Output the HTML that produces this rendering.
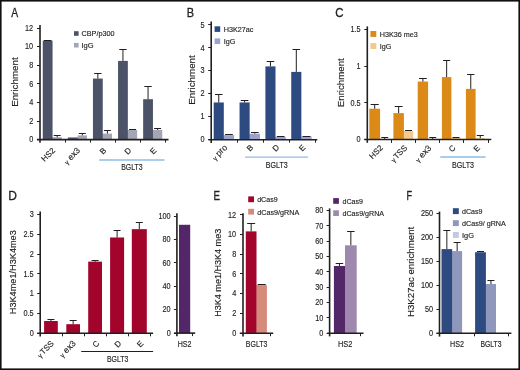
<!DOCTYPE html><html><head><meta charset="utf-8"><style>html,body{margin:0;padding:0;background:#fff;width:520px;height:370px;overflow:hidden}svg{display:block;will-change:transform}text{font-family:"Liberation Sans", sans-serif;stroke:#231f20;stroke-width:0.15px}</style></head><body>
<svg width="520" height="370" viewBox="0 0 520 370">
<rect x="0.00" y="0.00" width="520.00" height="370.00" fill="#fff"/>
<rect x="0.8" y="0.8" width="518.4" height="368.4" fill="none" stroke="#111" stroke-width="1.6"/>
<text x="11.20" y="17.00" font-size="12.0" text-anchor="start" fill="#231f20" textLength="6.9" lengthAdjust="spacingAndGlyphs" style="stroke-width:0.3px">A</text>
<text x="33.20" y="142.33" font-size="8.4" text-anchor="end" fill="#231f20" textLength="4.06" lengthAdjust="spacingAndGlyphs" >0</text>
<text x="33.20" y="123.75" font-size="8.4" text-anchor="end" fill="#231f20" textLength="4.06" lengthAdjust="spacingAndGlyphs" >2</text>
<text x="33.20" y="105.17" font-size="8.4" text-anchor="end" fill="#231f20" textLength="4.06" lengthAdjust="spacingAndGlyphs" >4</text>
<text x="33.20" y="86.59" font-size="8.4" text-anchor="end" fill="#231f20" textLength="4.06" lengthAdjust="spacingAndGlyphs" >6</text>
<text x="33.20" y="68.01" font-size="8.4" text-anchor="end" fill="#231f20" textLength="4.06" lengthAdjust="spacingAndGlyphs" >8</text>
<text x="33.20" y="49.43" font-size="8.4" text-anchor="end" fill="#231f20" textLength="8.13" lengthAdjust="spacingAndGlyphs" >10</text>
<text x="33.20" y="30.85" font-size="8.4" text-anchor="end" fill="#231f20" textLength="8.13" lengthAdjust="spacingAndGlyphs" >12</text>
<rect x="52.55" y="137.18" width="9.30" height="2.42" fill="#a4a5b5"/>
<rect x="51.55" y="137.18" width="1.00" height="2.42" fill="#a4a5b5"/>
<rect x="42.75" y="40.57" width="9.80" height="99.03" fill="#4c5368"/>
<line x1="43.98" y1="40.50" x2="51.32" y2="40.50" stroke="#231f20" stroke-width="1.0"/>
<line x1="57.20" y1="137.18" x2="57.20" y2="135.50" stroke="#231f20" stroke-width="1.0"/>
<line x1="53.71" y1="135.50" x2="60.69" y2="135.50" stroke="#231f20" stroke-width="1.0"/>
<rect x="77.65" y="135.42" width="9.30" height="4.18" fill="#a4a5b5"/>
<rect x="76.65" y="137.46" width="1.00" height="2.14" fill="#a4a5b5"/>
<rect x="67.85" y="137.46" width="9.80" height="2.14" fill="#4c5368"/>
<line x1="82.30" y1="135.42" x2="82.30" y2="133.50" stroke="#231f20" stroke-width="1.0"/>
<line x1="78.81" y1="133.50" x2="85.79" y2="133.50" stroke="#231f20" stroke-width="1.0"/>
<rect x="102.75" y="133.65" width="9.30" height="5.95" fill="#a4a5b5"/>
<rect x="101.75" y="133.65" width="1.00" height="5.95" fill="#a4a5b5"/>
<rect x="92.95" y="78.56" width="9.80" height="61.04" fill="#4c5368"/>
<line x1="97.85" y1="78.56" x2="97.85" y2="73.50" stroke="#231f20" stroke-width="1.0"/>
<line x1="94.17" y1="73.50" x2="101.52" y2="73.50" stroke="#231f20" stroke-width="1.0"/>
<line x1="107.40" y1="133.65" x2="107.40" y2="130.50" stroke="#231f20" stroke-width="1.0"/>
<line x1="103.91" y1="130.50" x2="110.89" y2="130.50" stroke="#231f20" stroke-width="1.0"/>
<rect x="127.85" y="129.94" width="9.30" height="9.66" fill="#a4a5b5"/>
<rect x="126.85" y="129.94" width="1.00" height="9.66" fill="#a4a5b5"/>
<rect x="118.05" y="60.91" width="9.80" height="78.69" fill="#4c5368"/>
<line x1="122.95" y1="60.91" x2="122.95" y2="49.50" stroke="#231f20" stroke-width="1.0"/>
<line x1="119.28" y1="49.50" x2="126.63" y2="49.50" stroke="#231f20" stroke-width="1.0"/>
<line x1="129.01" y1="129.50" x2="135.99" y2="129.50" stroke="#231f20" stroke-width="1.0"/>
<rect x="152.95" y="129.94" width="9.30" height="9.66" fill="#a4a5b5"/>
<rect x="151.95" y="129.94" width="1.00" height="9.66" fill="#a4a5b5"/>
<rect x="143.15" y="99.19" width="9.80" height="40.41" fill="#4c5368"/>
<line x1="148.05" y1="99.19" x2="148.05" y2="86.50" stroke="#231f20" stroke-width="1.0"/>
<line x1="144.37" y1="86.50" x2="151.72" y2="86.50" stroke="#231f20" stroke-width="1.0"/>
<line x1="157.60" y1="129.94" x2="157.60" y2="128.50" stroke="#231f20" stroke-width="1.0"/>
<line x1="154.11" y1="128.50" x2="161.09" y2="128.50" stroke="#231f20" stroke-width="1.0"/>
<rect x="74.00" y="31.20" width="4.60" height="4.60" fill="#4c5368"/>
<text x="81.50" y="35.80" font-size="7.5" text-anchor="start" fill="#231f20" textLength="33.0" lengthAdjust="spacingAndGlyphs" >CBP/p300</text>
<rect x="74.00" y="42.90" width="4.60" height="4.60" fill="#a4a5b5"/>
<text x="81.50" y="47.50" font-size="7.5" text-anchor="start" fill="#231f20" >IgG</text>
<text x="18.20" y="82.10" font-size="9.8" text-anchor="middle" fill="#231f20" textLength="49.5" lengthAdjust="spacingAndGlyphs" transform="rotate(-90 18.20 82.10)" >Enrichment</text>
<text x="55.55" y="151.00" font-size="8.0" text-anchor="end" fill="#231f20" transform="rotate(-45 55.55 151.00)" >HS2</text>
<text x="80.65" y="151.00" font-size="8.5" text-anchor="end" fill="#231f20" transform="rotate(-45 80.65 151.00)" ><tspan font-size="6.6" dy="0.6">γ</tspan><tspan dx="2.6" dy="-0.6">ex3</tspan></text>
<text x="106.75" y="151.00" font-size="8.0" text-anchor="end" fill="#231f20" transform="rotate(-45 106.75 151.00)" >B</text>
<text x="131.85" y="151.00" font-size="8.0" text-anchor="end" fill="#231f20" transform="rotate(-45 131.85 151.00)" >D</text>
<text x="156.95" y="151.00" font-size="8.0" text-anchor="end" fill="#231f20" transform="rotate(-45 156.95 151.00)" >E</text>
<line x1="99.20" y1="160.00" x2="164.50" y2="160.00" stroke="#8dbce8" stroke-width="1.3"/>
<text x="121.20" y="170.30" font-size="8.2" text-anchor="start" fill="#231f20" textLength="21.4" lengthAdjust="spacingAndGlyphs" >BGLT3</text>
<text x="186.70" y="17.00" font-size="12.0" text-anchor="start" fill="#231f20" textLength="7.3" lengthAdjust="spacingAndGlyphs" style="stroke-width:0.3px">B</text>
<text x="204.50" y="142.43" font-size="8.4" text-anchor="end" fill="#231f20" textLength="4.06" lengthAdjust="spacingAndGlyphs" >0</text>
<text x="204.50" y="119.45" font-size="8.4" text-anchor="end" fill="#231f20" textLength="4.06" lengthAdjust="spacingAndGlyphs" >1</text>
<text x="204.50" y="96.47" font-size="8.4" text-anchor="end" fill="#231f20" textLength="4.06" lengthAdjust="spacingAndGlyphs" >2</text>
<text x="204.50" y="73.49" font-size="8.4" text-anchor="end" fill="#231f20" textLength="4.06" lengthAdjust="spacingAndGlyphs" >3</text>
<text x="204.50" y="50.51" font-size="8.4" text-anchor="end" fill="#231f20" textLength="4.06" lengthAdjust="spacingAndGlyphs" >4</text>
<text x="204.50" y="27.53" font-size="8.4" text-anchor="end" fill="#231f20" textLength="4.06" lengthAdjust="spacingAndGlyphs" >5</text>
<rect x="223.80" y="135.10" width="10.30" height="4.60" fill="#9ca3ca"/>
<rect x="222.80" y="135.10" width="1.00" height="4.60" fill="#9ca3ca"/>
<rect x="213.70" y="102.47" width="10.10" height="37.23" fill="#2d4a81"/>
<line x1="218.75" y1="102.47" x2="218.75" y2="94.50" stroke="#231f20" stroke-width="1.0"/>
<line x1="214.96" y1="94.50" x2="222.54" y2="94.50" stroke="#231f20" stroke-width="1.0"/>
<line x1="225.09" y1="134.50" x2="232.81" y2="134.50" stroke="#231f20" stroke-width="1.0"/>
<rect x="249.65" y="133.73" width="10.30" height="5.97" fill="#9ca3ca"/>
<rect x="248.65" y="133.73" width="1.00" height="5.97" fill="#9ca3ca"/>
<rect x="239.55" y="102.47" width="10.10" height="37.23" fill="#2d4a81"/>
<line x1="244.60" y1="102.47" x2="244.60" y2="100.50" stroke="#231f20" stroke-width="1.0"/>
<line x1="240.81" y1="100.50" x2="248.39" y2="100.50" stroke="#231f20" stroke-width="1.0"/>
<line x1="254.80" y1="133.73" x2="254.80" y2="132.50" stroke="#231f20" stroke-width="1.0"/>
<line x1="250.94" y1="132.50" x2="258.66" y2="132.50" stroke="#231f20" stroke-width="1.0"/>
<rect x="275.50" y="136.94" width="10.30" height="2.76" fill="#9ca3ca"/>
<rect x="274.50" y="136.94" width="1.00" height="2.76" fill="#9ca3ca"/>
<rect x="265.40" y="66.39" width="10.10" height="73.31" fill="#2d4a81"/>
<line x1="270.45" y1="66.39" x2="270.45" y2="61.50" stroke="#231f20" stroke-width="1.0"/>
<line x1="266.66" y1="61.50" x2="274.24" y2="61.50" stroke="#231f20" stroke-width="1.0"/>
<line x1="276.79" y1="136.50" x2="284.51" y2="136.50" stroke="#231f20" stroke-width="1.0"/>
<rect x="301.35" y="136.48" width="10.30" height="3.22" fill="#9ca3ca"/>
<rect x="300.35" y="136.48" width="1.00" height="3.22" fill="#9ca3ca"/>
<rect x="291.25" y="71.91" width="10.10" height="67.79" fill="#2d4a81"/>
<line x1="296.30" y1="71.91" x2="296.30" y2="49.50" stroke="#231f20" stroke-width="1.0"/>
<line x1="292.51" y1="49.50" x2="300.09" y2="49.50" stroke="#231f20" stroke-width="1.0"/>
<line x1="302.64" y1="136.50" x2="310.36" y2="136.50" stroke="#231f20" stroke-width="1.0"/>
<rect x="214.60" y="26.30" width="5.60" height="5.60" fill="#2d4a81"/>
<text x="223.70" y="31.90" font-size="7.2" text-anchor="start" fill="#231f20" >H3K27ac</text>
<rect x="214.60" y="38.40" width="5.60" height="5.60" fill="#9ca3ca"/>
<text x="223.70" y="44.00" font-size="7.2" text-anchor="start" fill="#231f20" >IgG</text>
<text x="195.00" y="80.00" font-size="9.8" text-anchor="middle" fill="#231f20" textLength="49.5" lengthAdjust="spacingAndGlyphs" transform="rotate(-90 195.00 80.00)" >Enrichment</text>
<text x="227.82" y="148.00" font-size="8.7" text-anchor="end" fill="#231f20" transform="rotate(-45 227.82 148.00)" ><tspan font-size="6.6" dy="0.6">γ</tspan><tspan dx="2.2" dy="-0.6">pro</tspan></text>
<text x="253.87" y="148.00" font-size="8.0" text-anchor="end" fill="#231f20" transform="rotate(-45 253.87 148.00)" >B</text>
<text x="279.93" y="148.00" font-size="8.0" text-anchor="end" fill="#231f20" transform="rotate(-45 279.93 148.00)" >D</text>
<text x="305.98" y="148.00" font-size="8.0" text-anchor="end" fill="#231f20" transform="rotate(-45 305.98 148.00)" >E</text>
<line x1="245.10" y1="157.20" x2="308.10" y2="157.20" stroke="#8dbce8" stroke-width="1.3"/>
<text x="265.80" y="168.10" font-size="8.2" text-anchor="start" fill="#231f20" textLength="21.9" lengthAdjust="spacingAndGlyphs" >BGLT3</text>
<text x="335.30" y="17.20" font-size="12.0" text-anchor="start" fill="#231f20" textLength="8.3" lengthAdjust="spacingAndGlyphs" style="stroke-width:0.3px">C</text>
<text x="360.60" y="142.28" font-size="8.4" text-anchor="end" fill="#231f20" textLength="4.06" lengthAdjust="spacingAndGlyphs" >0</text>
<text x="360.60" y="105.56" font-size="8.4" text-anchor="end" fill="#231f20" textLength="10.16" lengthAdjust="spacingAndGlyphs" >0.5</text>
<text x="360.60" y="68.83" font-size="8.4" text-anchor="end" fill="#231f20" textLength="4.06" lengthAdjust="spacingAndGlyphs" >1</text>
<text x="360.60" y="32.11" font-size="8.4" text-anchor="end" fill="#231f20" textLength="10.16" lengthAdjust="spacingAndGlyphs" >1.5</text>
<rect x="380.10" y="139.26" width="9.30" height="0.29" fill="#f2c98f"/>
<rect x="379.10" y="139.26" width="1.00" height="0.29" fill="#f2c98f"/>
<rect x="369.30" y="108.70" width="10.80" height="30.85" fill="#db8a18"/>
<line x1="374.70" y1="108.70" x2="374.70" y2="104.50" stroke="#231f20" stroke-width="1.0"/>
<line x1="370.65" y1="104.50" x2="378.75" y2="104.50" stroke="#231f20" stroke-width="1.0"/>
<line x1="384.75" y1="139.26" x2="384.75" y2="137.50" stroke="#231f20" stroke-width="1.0"/>
<line x1="381.26" y1="137.50" x2="388.24" y2="137.50" stroke="#231f20" stroke-width="1.0"/>
<rect x="403.90" y="130.96" width="9.30" height="8.59" fill="#f2c98f"/>
<rect x="402.90" y="130.96" width="1.00" height="8.59" fill="#f2c98f"/>
<rect x="393.40" y="113.11" width="10.50" height="26.44" fill="#db8a18"/>
<line x1="398.65" y1="113.11" x2="398.65" y2="106.50" stroke="#231f20" stroke-width="1.0"/>
<line x1="394.71" y1="106.50" x2="402.59" y2="106.50" stroke="#231f20" stroke-width="1.0"/>
<line x1="405.06" y1="130.50" x2="412.04" y2="130.50" stroke="#231f20" stroke-width="1.0"/>
<rect x="428.10" y="139.26" width="9.30" height="0.29" fill="#f2c98f"/>
<rect x="427.10" y="139.26" width="1.00" height="0.29" fill="#f2c98f"/>
<rect x="417.70" y="81.52" width="10.40" height="58.03" fill="#db8a18"/>
<line x1="422.90" y1="81.52" x2="422.90" y2="78.50" stroke="#231f20" stroke-width="1.0"/>
<line x1="419.00" y1="78.50" x2="426.80" y2="78.50" stroke="#231f20" stroke-width="1.0"/>
<line x1="432.75" y1="139.26" x2="432.75" y2="137.50" stroke="#231f20" stroke-width="1.0"/>
<line x1="429.26" y1="137.50" x2="436.24" y2="137.50" stroke="#231f20" stroke-width="1.0"/>
<rect x="451.40" y="137.71" width="9.30" height="1.84" fill="#f2c98f"/>
<rect x="450.40" y="137.71" width="1.00" height="1.84" fill="#f2c98f"/>
<rect x="441.90" y="77.12" width="9.50" height="62.43" fill="#db8a18"/>
<line x1="446.65" y1="77.12" x2="446.65" y2="60.50" stroke="#231f20" stroke-width="1.0"/>
<line x1="443.09" y1="60.50" x2="450.21" y2="60.50" stroke="#231f20" stroke-width="1.0"/>
<line x1="452.56" y1="137.50" x2="459.54" y2="137.50" stroke="#231f20" stroke-width="1.0"/>
<rect x="475.60" y="138.08" width="9.30" height="1.47" fill="#f2c98f"/>
<rect x="474.60" y="138.08" width="1.00" height="1.47" fill="#f2c98f"/>
<rect x="465.90" y="88.87" width="9.70" height="50.68" fill="#db8a18"/>
<line x1="470.75" y1="88.87" x2="470.75" y2="74.50" stroke="#231f20" stroke-width="1.0"/>
<line x1="467.11" y1="74.50" x2="474.39" y2="74.50" stroke="#231f20" stroke-width="1.0"/>
<line x1="480.25" y1="138.08" x2="480.25" y2="135.50" stroke="#231f20" stroke-width="1.0"/>
<line x1="476.76" y1="135.50" x2="483.74" y2="135.50" stroke="#231f20" stroke-width="1.0"/>
<rect x="370.40" y="31.00" width="5.90" height="5.90" fill="#db8a18"/>
<text x="379.80" y="36.90" font-size="7.2" text-anchor="start" fill="#231f20" >H3K36 me3</text>
<rect x="370.40" y="43.10" width="5.90" height="5.90" fill="#f2c98f"/>
<text x="379.80" y="49.00" font-size="7.2" text-anchor="start" fill="#231f20" >IgG</text>
<text x="344.00" y="82.70" font-size="9.8" text-anchor="middle" fill="#231f20" textLength="49.0" lengthAdjust="spacingAndGlyphs" transform="rotate(-90 344.00 82.70)" >Enrichment</text>
<text x="383.43" y="148.40" font-size="8.0" text-anchor="end" fill="#231f20" transform="rotate(-45 383.43 148.40)" >HS2</text>
<text x="407.68" y="148.40" font-size="8.0" text-anchor="end" fill="#231f20" transform="rotate(-45 407.68 148.40)" ><tspan font-size="6.6" dy="0.6">γ</tspan><tspan dx="1.2" dy="-0.6">TSS</tspan></text>
<text x="431.93" y="148.70" font-size="8.5" text-anchor="end" fill="#231f20" transform="rotate(-45 431.93 148.70)" ><tspan font-size="6.6" dy="0.6">γ</tspan><tspan dx="2.6" dy="-0.6">ex3</tspan></text>
<text x="456.18" y="148.40" font-size="8.0" text-anchor="end" fill="#231f20" transform="rotate(-45 456.18 148.40)" >C</text>
<text x="480.43" y="148.40" font-size="8.0" text-anchor="end" fill="#231f20" transform="rotate(-45 480.43 148.40)" >E</text>
<line x1="440.30" y1="157.00" x2="485.60" y2="157.00" stroke="#8dbce8" stroke-width="1.3"/>
<text x="451.90" y="167.90" font-size="8.2" text-anchor="start" fill="#231f20" textLength="22.1" lengthAdjust="spacingAndGlyphs" >BGLT3</text>
<text x="8.20" y="199.80" font-size="12.0" text-anchor="start" fill="#231f20" style="stroke-width:0.3px">D</text>
<text x="33.70" y="336.03" font-size="8.4" text-anchor="end" fill="#231f20" textLength="4.06" lengthAdjust="spacingAndGlyphs" >0</text>
<text x="33.70" y="316.23" font-size="8.4" text-anchor="end" fill="#231f20" textLength="10.16" lengthAdjust="spacingAndGlyphs" >0.5</text>
<text x="33.70" y="296.43" font-size="8.4" text-anchor="end" fill="#231f20" textLength="4.06" lengthAdjust="spacingAndGlyphs" >1</text>
<text x="33.70" y="276.63" font-size="8.4" text-anchor="end" fill="#231f20" textLength="10.16" lengthAdjust="spacingAndGlyphs" >1.5</text>
<text x="33.70" y="256.83" font-size="8.4" text-anchor="end" fill="#231f20" textLength="4.06" lengthAdjust="spacingAndGlyphs" >2</text>
<text x="33.70" y="237.03" font-size="8.4" text-anchor="end" fill="#231f20" textLength="10.16" lengthAdjust="spacingAndGlyphs" >2.5</text>
<text x="33.70" y="217.23" font-size="8.4" text-anchor="end" fill="#231f20" textLength="4.06" lengthAdjust="spacingAndGlyphs" >3</text>
<rect x="44.10" y="321.02" width="13.70" height="12.28" fill="#a3042c"/>
<line x1="50.95" y1="321.02" x2="50.95" y2="319.50" stroke="#231f20" stroke-width="1.0"/>
<line x1="47.45" y1="319.50" x2="54.45" y2="319.50" stroke="#231f20" stroke-width="1.0"/>
<rect x="66.30" y="324.19" width="13.70" height="9.11" fill="#a3042c"/>
<line x1="73.15" y1="324.19" x2="73.15" y2="320.50" stroke="#231f20" stroke-width="1.0"/>
<line x1="69.65" y1="320.50" x2="76.65" y2="320.50" stroke="#231f20" stroke-width="1.0"/>
<rect x="88.20" y="261.62" width="13.80" height="71.68" fill="#a3042c"/>
<line x1="95.10" y1="261.62" x2="95.10" y2="260.50" stroke="#231f20" stroke-width="1.0"/>
<line x1="91.60" y1="260.50" x2="98.60" y2="260.50" stroke="#231f20" stroke-width="1.0"/>
<rect x="110.10" y="237.47" width="14.00" height="95.83" fill="#a3042c"/>
<line x1="117.10" y1="237.47" x2="117.10" y2="230.50" stroke="#231f20" stroke-width="1.0"/>
<line x1="113.60" y1="230.50" x2="120.60" y2="230.50" stroke="#231f20" stroke-width="1.0"/>
<rect x="131.80" y="229.15" width="15.00" height="104.15" fill="#a3042c"/>
<line x1="139.30" y1="229.15" x2="139.30" y2="222.50" stroke="#231f20" stroke-width="1.0"/>
<line x1="135.80" y1="222.50" x2="142.80" y2="222.50" stroke="#231f20" stroke-width="1.0"/>
<text x="16.00" y="272.20" font-size="9.8" text-anchor="middle" fill="#231f20" textLength="84" lengthAdjust="spacingAndGlyphs" transform="rotate(-90 16.00 272.20)" >H3K4me1/H3K4me3</text>
<text x="54.23" y="344.00" font-size="8.0" text-anchor="end" fill="#231f20" transform="rotate(-45 54.23 344.00)" ><tspan font-size="6.6" dy="0.6">γ</tspan><tspan dx="1.2" dy="-0.6">TSS</tspan></text>
<text x="76.29" y="344.00" font-size="8.5" text-anchor="end" fill="#231f20" transform="rotate(-45 76.29 344.00)" ><tspan font-size="6.6" dy="0.6">γ</tspan><tspan dx="2.6" dy="-0.6">ex3</tspan></text>
<text x="99.85" y="344.00" font-size="8.0" text-anchor="end" fill="#231f20" transform="rotate(-45 99.85 344.00)" >C</text>
<text x="121.91" y="344.00" font-size="8.0" text-anchor="end" fill="#231f20" transform="rotate(-45 121.91 344.00)" >D</text>
<text x="143.97" y="344.00" font-size="8.0" text-anchor="end" fill="#231f20" transform="rotate(-45 143.97 344.00)" >E</text>
<line x1="81.20" y1="351.50" x2="153.10" y2="351.50" stroke="#231f20" stroke-width="1.0"/>
<text x="106.90" y="362.30" font-size="8.2" text-anchor="start" fill="#231f20" textLength="21.6" lengthAdjust="spacingAndGlyphs" >BGLT3</text>
<text x="170.70" y="335.83" font-size="8.4" text-anchor="end" fill="#231f20" textLength="4.06" lengthAdjust="spacingAndGlyphs" >0</text>
<text x="170.70" y="312.41" font-size="8.4" text-anchor="end" fill="#231f20" textLength="8.13" lengthAdjust="spacingAndGlyphs" >20</text>
<text x="170.70" y="288.99" font-size="8.4" text-anchor="end" fill="#231f20" textLength="8.13" lengthAdjust="spacingAndGlyphs" >40</text>
<text x="170.70" y="265.57" font-size="8.4" text-anchor="end" fill="#231f20" textLength="8.13" lengthAdjust="spacingAndGlyphs" >60</text>
<text x="170.70" y="242.15" font-size="8.4" text-anchor="end" fill="#231f20" textLength="8.13" lengthAdjust="spacingAndGlyphs" >80</text>
<text x="170.70" y="218.73" font-size="8.4" text-anchor="end" fill="#231f20" textLength="12.19" lengthAdjust="spacingAndGlyphs" >100</text>
<rect x="179.00" y="224.78" width="11.20" height="108.32" fill="#53266a"/>
<text x="177.70" y="347.00" font-size="8.2" text-anchor="start" fill="#231f20" textLength="13.8" lengthAdjust="spacingAndGlyphs" >HS2</text>
<text x="213.60" y="200.00" font-size="12.0" text-anchor="start" fill="#231f20" textLength="6.5" lengthAdjust="spacingAndGlyphs" style="stroke-width:0.3px">E</text>
<text x="236.20" y="335.93" font-size="8.4" text-anchor="end" fill="#231f20" textLength="4.06" lengthAdjust="spacingAndGlyphs" >0</text>
<text x="236.20" y="316.20" font-size="8.4" text-anchor="end" fill="#231f20" textLength="4.06" lengthAdjust="spacingAndGlyphs" >2</text>
<text x="236.20" y="296.46" font-size="8.4" text-anchor="end" fill="#231f20" textLength="4.06" lengthAdjust="spacingAndGlyphs" >4</text>
<text x="236.20" y="276.73" font-size="8.4" text-anchor="end" fill="#231f20" textLength="4.06" lengthAdjust="spacingAndGlyphs" >6</text>
<text x="236.20" y="256.99" font-size="8.4" text-anchor="end" fill="#231f20" textLength="4.06" lengthAdjust="spacingAndGlyphs" >8</text>
<text x="236.20" y="237.26" font-size="8.4" text-anchor="end" fill="#231f20" textLength="8.13" lengthAdjust="spacingAndGlyphs" >10</text>
<text x="236.20" y="217.53" font-size="8.4" text-anchor="end" fill="#231f20" textLength="8.13" lengthAdjust="spacingAndGlyphs" >12</text>
<rect x="256.50" y="285.05" width="10.40" height="48.15" fill="#d68a7c"/>
<rect x="255.50" y="285.05" width="1.00" height="48.15" fill="#d68a7c"/>
<rect x="245.80" y="231.37" width="10.70" height="101.83" fill="#a3042c"/>
<line x1="251.15" y1="231.37" x2="251.15" y2="223.50" stroke="#231f20" stroke-width="1.0"/>
<line x1="247.15" y1="223.50" x2="255.15" y2="223.50" stroke="#231f20" stroke-width="1.0"/>
<line x1="257.70" y1="284.50" x2="265.70" y2="284.50" stroke="#231f20" stroke-width="1.0"/>
<rect x="248.20" y="196.40" width="5.80" height="5.80" fill="#a3042c"/>
<text x="257.20" y="202.20" font-size="7.4" text-anchor="start" fill="#231f20" textLength="20.4" lengthAdjust="spacingAndGlyphs" >dCas9</text>
<rect x="248.20" y="208.80" width="5.80" height="5.80" fill="#d68a7c"/>
<text x="257.20" y="214.60" font-size="7.4" text-anchor="start" fill="#231f20" textLength="42.0" lengthAdjust="spacingAndGlyphs" >dCas9/gRNA</text>
<text x="221.00" y="272.80" font-size="9.8" text-anchor="middle" fill="#231f20" textLength="88" lengthAdjust="spacingAndGlyphs" transform="rotate(-90 221.00 272.80)" >H3K4 me1/H3K4 me3</text>
<text x="245.80" y="346.80" font-size="8.2" text-anchor="start" fill="#231f20" textLength="21.6" lengthAdjust="spacingAndGlyphs" >BGLT3</text>
<text x="323.40" y="335.93" font-size="8.4" text-anchor="end" fill="#231f20" textLength="4.06" lengthAdjust="spacingAndGlyphs" >0</text>
<text x="323.40" y="320.59" font-size="8.4" text-anchor="end" fill="#231f20" textLength="8.13" lengthAdjust="spacingAndGlyphs" >10</text>
<text x="323.40" y="305.25" font-size="8.4" text-anchor="end" fill="#231f20" textLength="8.13" lengthAdjust="spacingAndGlyphs" >20</text>
<text x="323.40" y="289.91" font-size="8.4" text-anchor="end" fill="#231f20" textLength="8.13" lengthAdjust="spacingAndGlyphs" >30</text>
<text x="323.40" y="274.57" font-size="8.4" text-anchor="end" fill="#231f20" textLength="8.13" lengthAdjust="spacingAndGlyphs" >40</text>
<text x="323.40" y="259.23" font-size="8.4" text-anchor="end" fill="#231f20" textLength="8.13" lengthAdjust="spacingAndGlyphs" >50</text>
<text x="323.40" y="243.89" font-size="8.4" text-anchor="end" fill="#231f20" textLength="8.13" lengthAdjust="spacingAndGlyphs" >60</text>
<text x="323.40" y="228.55" font-size="8.4" text-anchor="end" fill="#231f20" textLength="8.13" lengthAdjust="spacingAndGlyphs" >70</text>
<text x="323.40" y="213.21" font-size="8.4" text-anchor="end" fill="#231f20" textLength="8.13" lengthAdjust="spacingAndGlyphs" >80</text>
<rect x="345.00" y="245.30" width="11.70" height="87.90" fill="#9e88ad"/>
<rect x="344.00" y="266.01" width="1.00" height="67.19" fill="#9e88ad"/>
<rect x="333.90" y="266.01" width="11.10" height="67.19" fill="#53266a"/>
<line x1="339.45" y1="266.01" x2="339.45" y2="263.50" stroke="#231f20" stroke-width="1.0"/>
<line x1="335.70" y1="263.50" x2="343.20" y2="263.50" stroke="#231f20" stroke-width="1.0"/>
<line x1="350.85" y1="245.30" x2="350.85" y2="231.50" stroke="#231f20" stroke-width="1.0"/>
<line x1="347.10" y1="231.50" x2="354.60" y2="231.50" stroke="#231f20" stroke-width="1.0"/>
<rect x="333.20" y="198.10" width="5.70" height="5.70" fill="#53266a"/>
<text x="342.50" y="203.80" font-size="7.4" text-anchor="start" fill="#231f20" textLength="20.4" lengthAdjust="spacingAndGlyphs" >dCas9</text>
<rect x="333.20" y="210.30" width="5.70" height="5.70" fill="#9e88ad"/>
<text x="342.50" y="216.00" font-size="7.4" text-anchor="start" fill="#231f20" textLength="41.6" lengthAdjust="spacingAndGlyphs" >dCas9/gRNA</text>
<text x="338.00" y="347.00" font-size="8.2" text-anchor="start" fill="#231f20" textLength="14.4" lengthAdjust="spacingAndGlyphs" >HS2</text>
<text x="406.60" y="199.80" font-size="12.0" text-anchor="start" fill="#231f20" textLength="5.6" lengthAdjust="spacingAndGlyphs" style="stroke-width:0.3px">F</text>
<text x="433.10" y="336.03" font-size="8.4" text-anchor="end" fill="#231f20" textLength="4.06" lengthAdjust="spacingAndGlyphs" >0</text>
<text x="433.10" y="312.11" font-size="8.4" text-anchor="end" fill="#231f20" textLength="8.13" lengthAdjust="spacingAndGlyphs" >50</text>
<text x="433.10" y="288.19" font-size="8.4" text-anchor="end" fill="#231f20" textLength="12.19" lengthAdjust="spacingAndGlyphs" >100</text>
<text x="433.10" y="264.27" font-size="8.4" text-anchor="end" fill="#231f20" textLength="12.19" lengthAdjust="spacingAndGlyphs" >150</text>
<text x="433.10" y="240.35" font-size="8.4" text-anchor="end" fill="#231f20" textLength="12.19" lengthAdjust="spacingAndGlyphs" >200</text>
<text x="433.10" y="216.43" font-size="8.4" text-anchor="end" fill="#231f20" textLength="12.19" lengthAdjust="spacingAndGlyphs" >250</text>
<rect x="452.20" y="251.11" width="9.90" height="82.19" fill="#8f97bd"/>
<rect x="451.20" y="251.11" width="1.00" height="82.19" fill="#8f97bd"/>
<rect x="441.50" y="249.10" width="10.70" height="84.20" fill="#2d4a81"/>
<line x1="446.85" y1="249.10" x2="446.85" y2="230.50" stroke="#231f20" stroke-width="1.0"/>
<line x1="443.35" y1="230.50" x2="450.35" y2="230.50" stroke="#231f20" stroke-width="1.0"/>
<line x1="457.15" y1="251.11" x2="457.15" y2="242.50" stroke="#231f20" stroke-width="1.0"/>
<line x1="453.65" y1="242.50" x2="460.65" y2="242.50" stroke="#231f20" stroke-width="1.0"/>
<rect x="485.90" y="284.02" width="10.10" height="49.28" fill="#8f97bd"/>
<rect x="484.90" y="284.02" width="1.00" height="49.28" fill="#8f97bd"/>
<rect x="475.10" y="252.21" width="10.80" height="81.09" fill="#2d4a81"/>
<line x1="477.00" y1="251.50" x2="484.00" y2="251.50" stroke="#231f20" stroke-width="1.0"/>
<line x1="490.95" y1="284.02" x2="490.95" y2="280.50" stroke="#231f20" stroke-width="1.0"/>
<line x1="487.45" y1="280.50" x2="494.45" y2="280.50" stroke="#231f20" stroke-width="1.0"/>
<rect x="452.90" y="208.20" width="5.90" height="5.90" fill="#2d4a81"/>
<text x="462.00" y="214.10" font-size="7.4" text-anchor="start" fill="#231f20" textLength="20.4" lengthAdjust="spacingAndGlyphs" >dCas9</text>
<rect x="452.90" y="220.20" width="5.90" height="5.90" fill="#8f97bd"/>
<text x="462.00" y="226.10" font-size="7.4" text-anchor="start" fill="#231f20" textLength="43.8" lengthAdjust="spacingAndGlyphs" >dCas9/ gRNA</text>
<rect x="452.90" y="232.00" width="5.90" height="5.90" fill="#c5c8e3"/>
<text x="462.00" y="237.90" font-size="7.4" text-anchor="start" fill="#231f20" >IgG</text>
<text x="413.60" y="271.90" font-size="9.8" text-anchor="middle" fill="#231f20" textLength="90.3" lengthAdjust="spacingAndGlyphs" transform="rotate(-90 413.60 271.90)" >H3K27ac enrichment</text>
<text x="450.10" y="347.10" font-size="8.2" text-anchor="start" fill="#231f20" textLength="13.9" lengthAdjust="spacingAndGlyphs" >HS2</text>
<text x="480.40" y="347.10" font-size="8.2" text-anchor="start" fill="#231f20" textLength="21.1" lengthAdjust="spacingAndGlyphs" >BGLT3</text>
<line x1="40.00" y1="25.00" x2="40.00" y2="142.80" stroke="#231f20" stroke-width="1.6"/>
<line x1="37.00" y1="139.50" x2="40.00" y2="139.50" stroke="#231f20" stroke-width="1.0"/>
<line x1="37.00" y1="121.50" x2="40.00" y2="121.50" stroke="#231f20" stroke-width="1.0"/>
<line x1="37.00" y1="102.50" x2="40.00" y2="102.50" stroke="#231f20" stroke-width="1.0"/>
<line x1="37.00" y1="83.50" x2="40.00" y2="83.50" stroke="#231f20" stroke-width="1.0"/>
<line x1="37.00" y1="65.50" x2="40.00" y2="65.50" stroke="#231f20" stroke-width="1.0"/>
<line x1="37.00" y1="46.50" x2="40.00" y2="46.50" stroke="#231f20" stroke-width="1.0"/>
<line x1="37.00" y1="28.50" x2="40.00" y2="28.50" stroke="#231f20" stroke-width="1.0"/>
<line x1="37.00" y1="139.60" x2="168.50" y2="139.60" stroke="#231f20" stroke-width="1.6"/>
<line x1="65.50" y1="139.60" x2="65.50" y2="142.60" stroke="#231f20" stroke-width="1.0"/>
<line x1="90.50" y1="139.60" x2="90.50" y2="142.60" stroke="#231f20" stroke-width="1.0"/>
<line x1="115.50" y1="139.60" x2="115.50" y2="142.60" stroke="#231f20" stroke-width="1.0"/>
<line x1="140.50" y1="139.60" x2="140.50" y2="142.60" stroke="#231f20" stroke-width="1.0"/>
<line x1="165.50" y1="139.60" x2="165.50" y2="142.60" stroke="#231f20" stroke-width="1.0"/>
<line x1="211.20" y1="21.40" x2="211.20" y2="142.90" stroke="#231f20" stroke-width="1.6"/>
<line x1="208.20" y1="139.50" x2="211.20" y2="139.50" stroke="#231f20" stroke-width="1.0"/>
<line x1="208.20" y1="116.50" x2="211.20" y2="116.50" stroke="#231f20" stroke-width="1.0"/>
<line x1="208.20" y1="93.50" x2="211.20" y2="93.50" stroke="#231f20" stroke-width="1.0"/>
<line x1="208.20" y1="70.50" x2="211.20" y2="70.50" stroke="#231f20" stroke-width="1.0"/>
<line x1="208.20" y1="47.50" x2="211.20" y2="47.50" stroke="#231f20" stroke-width="1.0"/>
<line x1="208.20" y1="24.50" x2="211.20" y2="24.50" stroke="#231f20" stroke-width="1.0"/>
<line x1="208.40" y1="139.70" x2="317.30" y2="139.70" stroke="#231f20" stroke-width="1.6"/>
<line x1="237.50" y1="139.70" x2="237.50" y2="142.70" stroke="#231f20" stroke-width="1.0"/>
<line x1="263.50" y1="139.70" x2="263.50" y2="142.70" stroke="#231f20" stroke-width="1.0"/>
<line x1="289.50" y1="139.70" x2="289.50" y2="142.70" stroke="#231f20" stroke-width="1.0"/>
<line x1="315.50" y1="139.70" x2="315.50" y2="142.70" stroke="#231f20" stroke-width="1.0"/>
<line x1="367.30" y1="26.40" x2="367.30" y2="142.80" stroke="#231f20" stroke-width="1.6"/>
<line x1="364.30" y1="139.50" x2="367.30" y2="139.50" stroke="#231f20" stroke-width="1.0"/>
<line x1="364.30" y1="102.50" x2="367.30" y2="102.50" stroke="#231f20" stroke-width="1.0"/>
<line x1="364.30" y1="66.50" x2="367.30" y2="66.50" stroke="#231f20" stroke-width="1.0"/>
<line x1="364.30" y1="29.50" x2="367.30" y2="29.50" stroke="#231f20" stroke-width="1.0"/>
<line x1="364.30" y1="139.55" x2="491.30" y2="139.55" stroke="#231f20" stroke-width="1.6"/>
<line x1="391.50" y1="139.55" x2="391.50" y2="142.95" stroke="#231f20" stroke-width="1.0"/>
<line x1="415.50" y1="139.55" x2="415.50" y2="142.95" stroke="#231f20" stroke-width="1.0"/>
<line x1="439.50" y1="139.55" x2="439.50" y2="142.95" stroke="#231f20" stroke-width="1.0"/>
<line x1="463.50" y1="139.55" x2="463.50" y2="142.95" stroke="#231f20" stroke-width="1.0"/>
<line x1="488.50" y1="139.55" x2="488.50" y2="142.95" stroke="#231f20" stroke-width="1.0"/>
<line x1="40.20" y1="211.60" x2="40.20" y2="336.40" stroke="#231f20" stroke-width="1.6"/>
<line x1="37.20" y1="333.50" x2="40.20" y2="333.50" stroke="#231f20" stroke-width="1.0"/>
<line x1="37.20" y1="313.50" x2="40.20" y2="313.50" stroke="#231f20" stroke-width="1.0"/>
<line x1="37.20" y1="293.50" x2="40.20" y2="293.50" stroke="#231f20" stroke-width="1.0"/>
<line x1="37.20" y1="273.50" x2="40.20" y2="273.50" stroke="#231f20" stroke-width="1.0"/>
<line x1="37.20" y1="254.50" x2="40.20" y2="254.50" stroke="#231f20" stroke-width="1.0"/>
<line x1="37.20" y1="234.50" x2="40.20" y2="234.50" stroke="#231f20" stroke-width="1.0"/>
<line x1="37.20" y1="214.50" x2="40.20" y2="214.50" stroke="#231f20" stroke-width="1.0"/>
<line x1="37.20" y1="333.30" x2="153.10" y2="333.30" stroke="#231f20" stroke-width="1.6"/>
<line x1="62.50" y1="333.30" x2="62.50" y2="336.30" stroke="#231f20" stroke-width="1.0"/>
<line x1="84.50" y1="333.30" x2="84.50" y2="336.30" stroke="#231f20" stroke-width="1.0"/>
<line x1="106.50" y1="333.30" x2="106.50" y2="336.30" stroke="#231f20" stroke-width="1.0"/>
<line x1="128.50" y1="333.30" x2="128.50" y2="336.30" stroke="#231f20" stroke-width="1.0"/>
<line x1="150.50" y1="333.30" x2="150.50" y2="336.30" stroke="#231f20" stroke-width="1.0"/>
<line x1="176.90" y1="213.30" x2="176.90" y2="336.30" stroke="#231f20" stroke-width="1.6"/>
<line x1="173.90" y1="333.50" x2="176.90" y2="333.50" stroke="#231f20" stroke-width="1.0"/>
<line x1="173.90" y1="309.50" x2="176.90" y2="309.50" stroke="#231f20" stroke-width="1.0"/>
<line x1="173.90" y1="286.50" x2="176.90" y2="286.50" stroke="#231f20" stroke-width="1.0"/>
<line x1="173.90" y1="262.50" x2="176.90" y2="262.50" stroke="#231f20" stroke-width="1.0"/>
<line x1="173.90" y1="239.50" x2="176.90" y2="239.50" stroke="#231f20" stroke-width="1.0"/>
<line x1="173.90" y1="216.50" x2="176.90" y2="216.50" stroke="#231f20" stroke-width="1.0"/>
<line x1="174.10" y1="333.10" x2="195.20" y2="333.10" stroke="#231f20" stroke-width="1.6"/>
<line x1="192.50" y1="333.10" x2="192.50" y2="336.10" stroke="#231f20" stroke-width="1.0"/>
<line x1="243.00" y1="213.20" x2="243.00" y2="336.40" stroke="#231f20" stroke-width="1.6"/>
<line x1="240.00" y1="333.50" x2="243.00" y2="333.50" stroke="#231f20" stroke-width="1.0"/>
<line x1="240.00" y1="313.50" x2="243.00" y2="313.50" stroke="#231f20" stroke-width="1.0"/>
<line x1="240.00" y1="293.50" x2="243.00" y2="293.50" stroke="#231f20" stroke-width="1.0"/>
<line x1="240.00" y1="273.50" x2="243.00" y2="273.50" stroke="#231f20" stroke-width="1.0"/>
<line x1="240.00" y1="254.50" x2="243.00" y2="254.50" stroke="#231f20" stroke-width="1.0"/>
<line x1="240.00" y1="234.50" x2="243.00" y2="234.50" stroke="#231f20" stroke-width="1.0"/>
<line x1="240.00" y1="214.50" x2="243.00" y2="214.50" stroke="#231f20" stroke-width="1.0"/>
<line x1="239.80" y1="333.20" x2="273.20" y2="333.20" stroke="#231f20" stroke-width="1.6"/>
<line x1="270.50" y1="333.20" x2="270.50" y2="336.20" stroke="#231f20" stroke-width="1.0"/>
<line x1="329.60" y1="208.40" x2="329.60" y2="336.40" stroke="#231f20" stroke-width="1.6"/>
<line x1="326.60" y1="333.50" x2="329.60" y2="333.50" stroke="#231f20" stroke-width="1.0"/>
<line x1="326.60" y1="317.50" x2="329.60" y2="317.50" stroke="#231f20" stroke-width="1.0"/>
<line x1="326.60" y1="302.50" x2="329.60" y2="302.50" stroke="#231f20" stroke-width="1.0"/>
<line x1="326.60" y1="287.50" x2="329.60" y2="287.50" stroke="#231f20" stroke-width="1.0"/>
<line x1="326.60" y1="271.50" x2="329.60" y2="271.50" stroke="#231f20" stroke-width="1.0"/>
<line x1="326.60" y1="256.50" x2="329.60" y2="256.50" stroke="#231f20" stroke-width="1.0"/>
<line x1="326.60" y1="241.50" x2="329.60" y2="241.50" stroke="#231f20" stroke-width="1.0"/>
<line x1="326.60" y1="225.50" x2="329.60" y2="225.50" stroke="#231f20" stroke-width="1.0"/>
<line x1="326.60" y1="210.50" x2="329.60" y2="210.50" stroke="#231f20" stroke-width="1.0"/>
<line x1="327.20" y1="333.20" x2="363.50" y2="333.20" stroke="#231f20" stroke-width="1.6"/>
<line x1="360.50" y1="333.20" x2="360.50" y2="336.20" stroke="#231f20" stroke-width="1.0"/>
<line x1="439.50" y1="211.60" x2="439.50" y2="336.60" stroke="#231f20" stroke-width="1.6"/>
<line x1="436.50" y1="333.50" x2="439.50" y2="333.50" stroke="#231f20" stroke-width="1.0"/>
<line x1="436.50" y1="309.50" x2="439.50" y2="309.50" stroke="#231f20" stroke-width="1.0"/>
<line x1="436.50" y1="285.50" x2="439.50" y2="285.50" stroke="#231f20" stroke-width="1.0"/>
<line x1="436.50" y1="261.50" x2="439.50" y2="261.50" stroke="#231f20" stroke-width="1.0"/>
<line x1="436.50" y1="237.50" x2="439.50" y2="237.50" stroke="#231f20" stroke-width="1.0"/>
<line x1="436.50" y1="213.50" x2="439.50" y2="213.50" stroke="#231f20" stroke-width="1.0"/>
<line x1="436.50" y1="333.30" x2="511.40" y2="333.30" stroke="#231f20" stroke-width="1.6"/>
<line x1="474.50" y1="333.30" x2="474.50" y2="336.30" stroke="#231f20" stroke-width="1.0"/>
<line x1="508.50" y1="333.30" x2="508.50" y2="336.30" stroke="#231f20" stroke-width="1.0"/>
</svg></body></html>
